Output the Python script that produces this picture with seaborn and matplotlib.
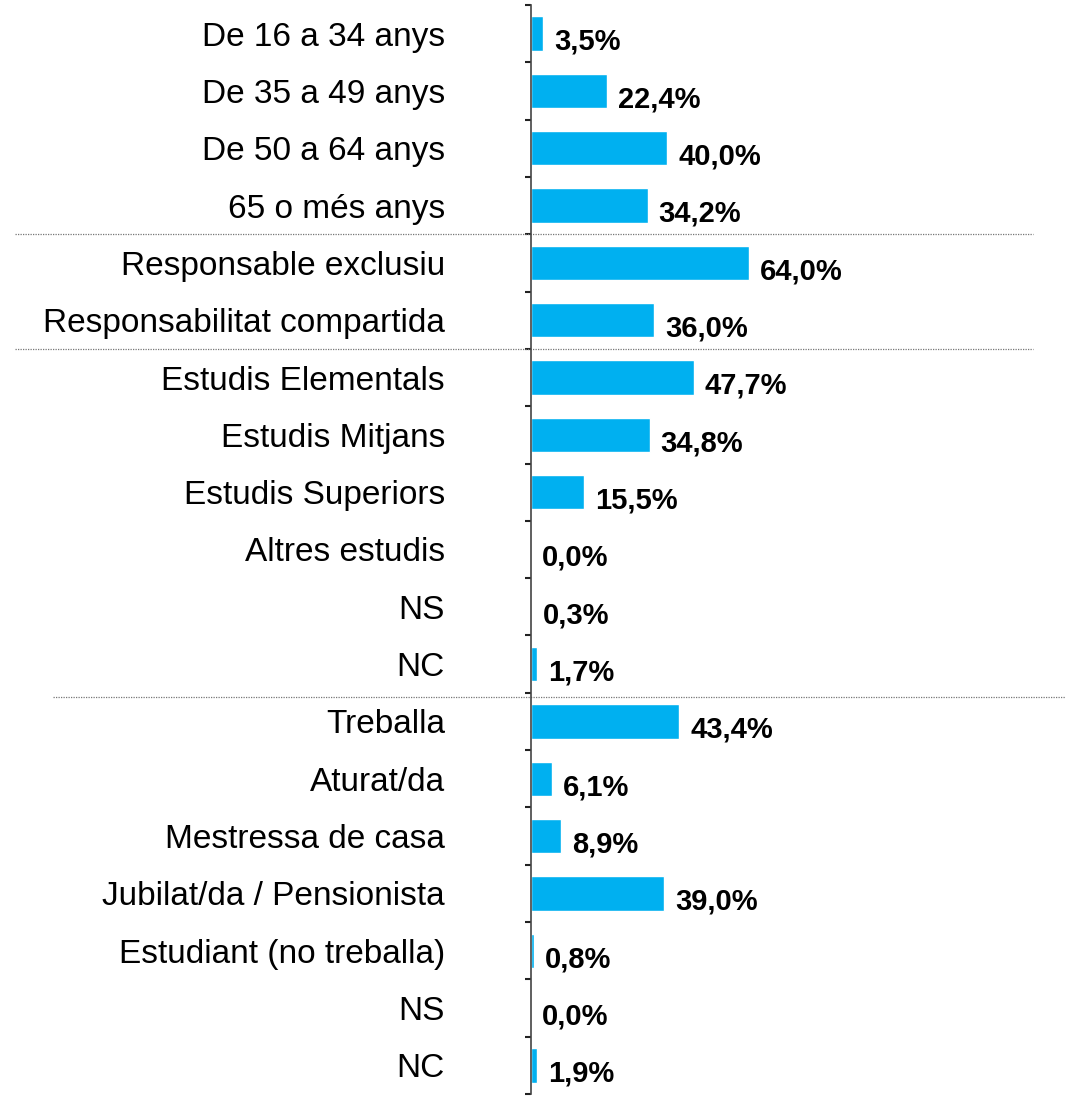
import pandas as pd
import matplotlib.pyplot as plt
import matplotlib.transforms as mtransforms
import seaborn as sns

# chart values
labels = ['De 16 a 34 anys', 'De 35 a 49 anys', 'De 50 a 64 anys', '65 o més anys',
          'Responsable exclusiu', 'Responsabilitat compartida',
          'Estudis Elementals', 'Estudis Mitjans', 'Estudis Superiors',
          'Altres estudis', 'NS', 'NC',
          'Treballa', 'Aturat/da', 'Mestressa de casa', 'Jubilat/da / Pensionista',
          'Estudiant (no treballa)', 'NS', 'NC']
values = [3.5, 22.4, 40.0, 34.2,
          64.0, 36.0,
          47.7, 34.8, 15.5, 0.0, 0.3, 1.7,
          43.4, 6.1, 8.9, 39.0, 0.8, 0.0, 1.9]
group_breaks = [3.5, 5.5, 11.58]

df = pd.DataFrame({'row': range(len(values)), 'pct': values})

sns.set_style('white')
plt.rcParams['font.family'] = ['Liberation Sans', 'DejaVu Sans']

fig = plt.figure(figsize=(10.66, 10.96), dpi=100)
ax = fig.add_axes([531 / 1066, 2 / 1096, 535 / 1066, 1089 / 1096])

sns.barplot(data=df, x='pct', y='row', orient='h', color='#00B0F0',
            saturation=1, width=0.6, ax=ax)

ax.set_xlim(0, 157)
ax.set_ylim(len(values) - 0.5, -0.5)
ax.set_xlabel('')
ax.set_ylabel('')
ax.set_xticks([])

ax.set_yticks(range(len(values)))
ax.set_yticklabels(labels, fontsize=24, color='black')
ax.tick_params(axis='y', which='major', length=0, pad=62)
ax.set_yticks([i + 0.5 for i in range(-1, len(values))], minor=True)
ax.tick_params(axis='y', which='minor', length=4, width=1.5, color='#222222',
               left=True, direction='out')

for side in ['top', 'right', 'bottom']:
    ax.spines[side].set_visible(False)
ax.spines['left'].set_color('#444444')
ax.spines['left'].set_linewidth(1.2)

# value labels
for i, v in enumerate(values):
    ax.annotate(f'{v:.1f}%'.replace('.', ','), xy=(v, i), xytext=(8, -6),
                textcoords='offset points', ha='left', va='center',
                fontsize=21, fontweight='bold', color='black')

# dotted separators between groups
trans = mtransforms.blended_transform_factory(ax.transAxes, ax.transData)
spans = [(15, 1033), (15, 1033), (53, 1066)]
for yb, (x0, x1) in zip(group_breaks, spans):
    ax.plot([(x0 - 531) / 535, (x1 - 531) / 535], [yb, yb], transform=trans,
            color='#777777', linestyle=(0, (1, 1)), linewidth=0.9, clip_on=False)

plt.savefig('out.png', dpi=100)
